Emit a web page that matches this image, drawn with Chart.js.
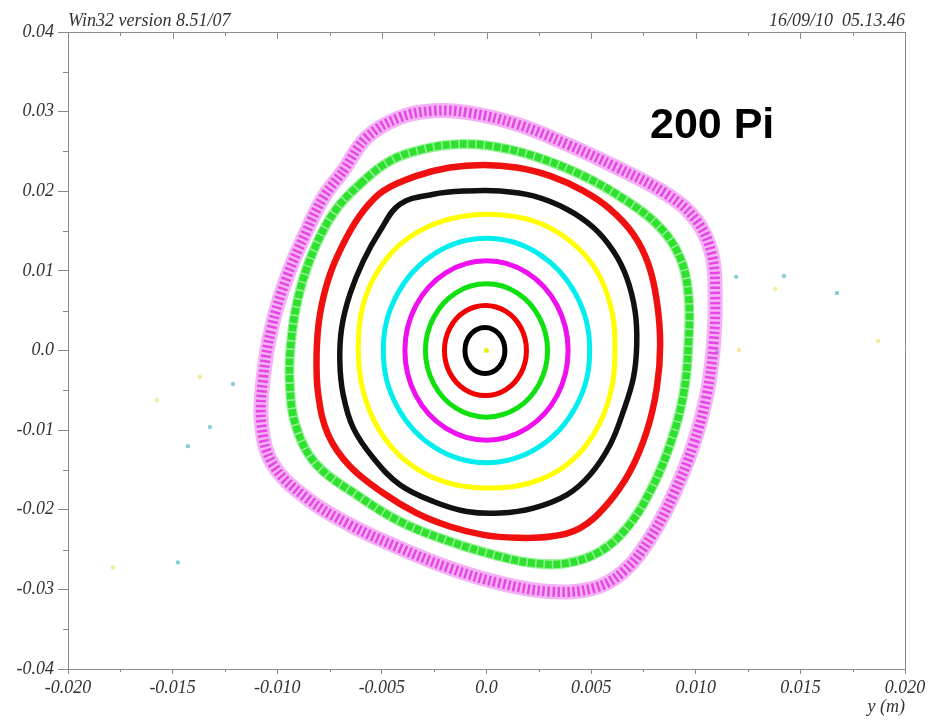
<!DOCTYPE html>
<html>
<head>
<meta charset="utf-8">
<script src="https://cdn.jsdelivr.net/npm/chart.js@4/dist/chart.umd.min.js"></script>
<style>
html,body{margin:0;padding:0;background:#fff;}
canvas{display:block;}
</style>
</head>
<body>
<canvas id="c" width="930" height="720"></canvas>
<script>
// ---- axis ticks ----
const xTickLabels = ['-0.020','-0.015','-0.010','-0.005','0.0','0.005','0.010','0.015','0.020'];
const yTickLabels = ['-0.04','-0.03','-0.02','-0.01','0.0','0.01','0.02','0.03','0.04'];
const xMajor = [-0.020,-0.015,-0.010,-0.005,0.0,0.005,0.010,0.015,0.020];
const xMinor = [-0.0175,-0.0125,-0.0075,-0.0025,0.0025,0.0075,0.0125,0.0175];
const yMinor = [-0.035,-0.025,-0.015,-0.005,0.005,0.015,0.025,0.035];

// ---- orbits (x, y), inner to outer ----
const centerPoint = [[0.0, 0.0]];
const ringBlackInner = [[0.00088,0],[0.00060,0.00205],[-0.00007,0.00289],[-0.00075,0.00205],[-0.00103,0],[-0.00075,-0.00205],[-0.00007,-0.00289],[0.00060,-0.00205]];
const ringRedInner = [[0.00191,0],[0.00165,0.00283],[0.00093,0.00491],[-0.00005,0.00566],[-0.00103,0.00491],[-0.00175,0.00283],[-0.00201,0],[-0.00175,-0.00283],[-0.00103,-0.00491],[-0.00005,-0.00566],[0.00093,-0.00491],[0.00165,-0.00283]];
const ringGreenInner = [[0.00292,0],[0.00252,0.00418],[0.00146,0.00725],[0,0.00837],[-0.00146,0.00725],[-0.00252,0.00418],[-0.00292,0],[-0.00252,-0.00419],[-0.00146,-0.00725],[0,-0.00837],[0.00146,-0.00725],[0.00252,-0.00419]];
const ringMagentaInner = [[0.00390,0],[0.00338,0.00562],[0.00195,0.00975],[0,0.01126],[-0.00195,0.00975],[-0.00338,0.00562],[-0.00390,0],[-0.00338,-0.00564],[-0.00195,-0.00975],[0,-0.01126],[0.00195,-0.00975],[0.00338,-0.00564]];
const ringCyan = [[0.00493,0],[0.00427,0.00704],[0.00246,0.01220],[0,0.01409],[-0.00246,0.01220],[-0.00427,0.00704],[-0.00493,0],[-0.00427,-0.00704],[-0.00246,-0.01220],[0,-0.01409],[0.00246,-0.01220],[0.00427,-0.00704]];
const ringYellow = [[0.00001,0.01711],[0.00224,0.01627],[0.00399,0.01375],[0.00527,0.00998],[0.00599,0.00494],[0.00614,-0.00009],[0.00591,-0.00554],[0.00511,-0.01057],[0.00384,-0.01434],[0.00208,-0.01664],[0.00001,-0.01727],[-0.00207,-0.01644],[-0.00382,-0.01393],[-0.00509,-0.01015],[-0.00589,-0.00512],[-0.00613,0.00034],[-0.00589,0.00579],[-0.00509,0.01040],[-0.00382,0.01396],[-0.00207,0.01627]];
const ringBlackOuter = [[-0.00414,0.01837],[-0.00254,0.01962],[-0.00095,0.02004],[0.00065,0.02004],[0.00224,0.01941],[0.00384,0.01774],[0.00511,0.01544],[0.00606,0.01249],[0.00670,0.00915],[0.00710,0.00494],[0.00718,0.00075],[0.00702,-0.00343],[0.00654,-0.00764],[0.00591,-0.01183],[0.00495,-0.01560],[0.00384,-0.01812],[0.00224,-0.01979],[0.00065,-0.02042],[-0.00095,-0.02022],[-0.00254,-0.01896],[-0.00414,-0.01686],[-0.00541,-0.01350],[-0.00637,-0.00972],[-0.00685,-0.00554],[-0.00701,-0.00135],[-0.00692,0.00286],[-0.00653,0.00704],[-0.00589,0.01123],[-0.00509,0.01501]];
const ringRedOuter = [[-0.00494,0.02004],[-0.00334,0.02193],[-0.00175,0.02298],[-0.00015,0.02331],[0.00144,0.02298],[0.00304,0.02193],[0.00463,0.02004],[0.00591,0.01774],[0.00702,0.01459],[0.00774,0.01082],[0.00814,0.00620],[0.00830,0.00075],[0.00814,-0.00469],[0.00766,-0.01015],[0.00686,-0.01518],[0.00575,-0.01937],[0.00447,-0.02230],[0.00304,-0.02336],[0.00144,-0.02352],[-0.00015,-0.02315],[-0.00175,-0.02210],[-0.00334,-0.02042],[-0.00494,-0.01790],[-0.00653,-0.01455],[-0.00757,-0.01057],[-0.00804,-0.00554],[-0.00812,-0.00050],[-0.00796,0.00453],[-0.00748,0.00956],[-0.00669,0.01418],[-0.00589,0.01752]];
const ringGreenOuter = [[-0.00605,0.02088],[-0.00461,0.02381],[-0.00302,0.02529],[-0.00143,0.02591],[0.00017,0.02570],[0.00224,0.02444],[0.00463,0.02193],[0.00670,0.01878],[0.00830,0.01544],[0.00925,0.01166],[0.00965,0.00704],[0.00965,0.00075],[0.00941,-0.00554],[0.00877,-0.01183],[0.00782,-0.01770],[0.00670,-0.02230],[0.00543,-0.02525],[0.00384,-0.02671],[0.00224,-0.02671],[0.00065,-0.02588],[-0.00175,-0.02399],[-0.00414,-0.02147],[-0.00621,-0.01812],[-0.00812,-0.01434],[-0.00908,-0.00972],[-0.00940,-0.00428],[-0.00932,0.00160],[-0.00892,0.00746],[-0.00820,0.01292],[-0.00724,0.01752]];
const ringMagentaOuter = [[-0.00685,0.02256],[-0.00573,0.02676],[-0.00414,0.02927],[-0.00254,0.03010],[-0.00095,0.02990],[0.00144,0.02843],[0.00384,0.02591],[0.00623,0.02298],[0.00862,0.01962],[0.01005,0.01627],[0.01077,0.01208],[0.01093,0.00704],[0.01085,0.00075],[0.01053,-0.00554],[0.00989,-0.01183],[0.00893,-0.01812],[0.00782,-0.02356],[0.00654,-0.02776],[0.00511,-0.02985],[0.00304,-0.03028],[0.00065,-0.02922],[-0.00175,-0.02734],[-0.00414,-0.02482],[-0.00653,-0.02189],[-0.00860,-0.01853],[-0.01020,-0.01434],[-0.01075,-0.00931],[-0.01067,-0.00343],[-0.01027,0.00286],[-0.00955,0.00915],[-0.00860,0.01501],[-0.00780,0.01921]];

// ---- stray escaping particles ----
const strayYellow = [[-0.01575,-0.00623],[-0.01370,-0.00333],[-0.01785,-0.02724],[0.01207,0.00006],[0.01379,0.00774],[0.01871,0.00120]];
const strayCyan = [[-0.01212,-0.00421],[-0.01322,-0.00962],[-0.01427,-0.01201],[-0.01475,-0.02661],[0.01193,0.00925],[0.01422,0.00937],[0.01675,0.00723],[0.01101,-0.00019]];

function pts(a){ return a.map(p => ({x:p[0], y:p[1]})); }
function ring(data, color, width, dash){
  return {type:'line', closed:true, data:pts(data), borderColor:color, borderWidth:width, borderDash:dash||[],
          pointRadius:0, tension:0.38, fill:false, showLine:true, spanGaps:true,
          borderCapStyle:'butt', borderJoinStyle:'round'};
}

const datasets = [
  ring(ringMagentaOuter, 'rgba(236,100,236,0.5)', 15),
  ring(ringMagentaOuter, 'rgba(220,20,220,0.9)', 10, [2.5,2.5]),
  ring(ringGreenOuter, 'rgba(70,230,70,0.55)', 10),
  ring(ringGreenOuter, '#16dc16', 7.5, [7,1.5]),
  ring(ringRedOuter, '#f01010', 6.5),
  ring(ringBlackOuter, '#111111', 5.5),
  ring(ringYellow, '#ffff00', 5),
  ring(ringCyan, '#00eeee', 5),
  ring(ringMagentaInner, '#ee10ee', 5),
  ring(ringGreenInner, '#10e010', 5),
  ring(ringRedInner, '#f00000', 5),
  ring(ringBlackInner, '#000000', 5),
  {type:'scatter', data:pts(centerPoint), pointRadius:2.5, pointBackgroundColor:'#f0f000', pointBorderWidth:0},
  {type:'scatter', data:pts(strayYellow), pointRadius:2.2, pointBackgroundColor:'rgba(240,230,120,0.75)', pointBorderWidth:0},
  {type:'scatter', data:pts(strayCyan), pointRadius:2.2, pointBackgroundColor:'rgba(110,200,210,0.85)', pointBorderWidth:0}
];

// close each orbit through the library's own looping line path
const loopPlugin = {
  id:'loopRings',
  beforeDatasetDraw(chart, args){
    const ds = chart.data.datasets[args.index];
    if (!ds.closed) return;
    const line = args.meta.dataset;
    if (!line) return;
    line._loop = true; line._fullLoop = true;
    line._pointsUpdated = false; line._segments = undefined; line._path = undefined;
    if (typeof line.updateControlPoints === 'function') line.updateControlPoints(chart.chartArea, 'x');
  }
};

const axisColor = '#8a8a8a';
const tickFont = {family:'"Liberation Serif", "DejaVu Serif", serif', size:18, style:'italic'};

const framePlugin = {
  id:'frame',
  afterDraw(chart){
    const ctx = chart.ctx, a = chart.chartArea, xs = chart.scales.x, ys = chart.scales.y;
    ctx.save();
    ctx.strokeStyle = axisColor; ctx.lineWidth = 1;
    ctx.beginPath();
    ctx.moveTo(a.left, a.top+0.5); ctx.lineTo(a.right, a.top+0.5);
    ctx.moveTo(a.right+0.5, a.top); ctx.lineTo(a.right+0.5, a.bottom);
    xMajor.forEach(v => { const p = Math.round(xs.getPixelForValue(v))+0.5; ctx.moveTo(p, a.top); ctx.lineTo(p, a.top+7); });
    xMinor.forEach(v => { const p = Math.round(xs.getPixelForValue(v))+0.5; ctx.moveTo(p, a.top); ctx.lineTo(p, a.top+4);
                          ctx.moveTo(p, a.bottom); ctx.lineTo(p, a.bottom+3); });
    yMinor.forEach(v => { const p = Math.round(ys.getPixelForValue(v))+0.5; ctx.moveTo(a.left-5, p); ctx.lineTo(a.left, p); });
    ctx.stroke();
    ctx.fillStyle = '#333';
    ctx.font = 'italic 18px "Liberation Serif", serif';
    ctx.textBaseline = 'alphabetic';
    ctx.textAlign = 'left';
    ctx.fillText('Win32 version 8.51/07', a.left, 26);
    ctx.textAlign = 'right';
    ctx.fillText('16/09/10  05.13.46', a.right, 26);
    ctx.fillText('y (m)', a.right, 712);
    ctx.fillStyle = '#000';
    ctx.font = 'bold 43px "Liberation Sans", Arial, sans-serif';
    ctx.textAlign = 'left';
    ctx.fillText('200 Pi', 650, 138);
    ctx.restore();
  }
};

new Chart(document.getElementById('c'), {
  type:'scatter',
  data:{datasets},
  options:{
    responsive:false, animation:false, events:[],
    layout:{padding:{top:32, right:25, left:0, bottom:0}},
    plugins:{legend:{display:false}, tooltip:{enabled:false}},
    scales:{
      x:{type:'linear', min:-0.02, max:0.02,
         afterFit(s){ s.height = 51; },
         border:{display:true, color:axisColor},
         grid:{display:true, drawOnChartArea:false, drawTicks:true, tickLength:5, color:axisColor},
         ticks:{stepSize:0.005, autoSkip:false, maxRotation:0, padding:3, color:'#333', font:tickFont,
                callback:(v,i)=>xTickLabels[i]}},
      y:{type:'linear', min:-0.04, max:0.04,
         afterFit(s){ s.width = 68; },
         border:{display:true, color:axisColor},
         grid:{display:true, drawOnChartArea:false, drawTicks:true, tickLength:10, color:axisColor},
         ticks:{stepSize:0.01, autoSkip:false, padding:4, color:'#333', font:tickFont,
                callback:(v,i)=>yTickLabels[i]}}
    }
  },
  plugins:[loopPlugin, framePlugin]
});
</script>
</body>
</html>
